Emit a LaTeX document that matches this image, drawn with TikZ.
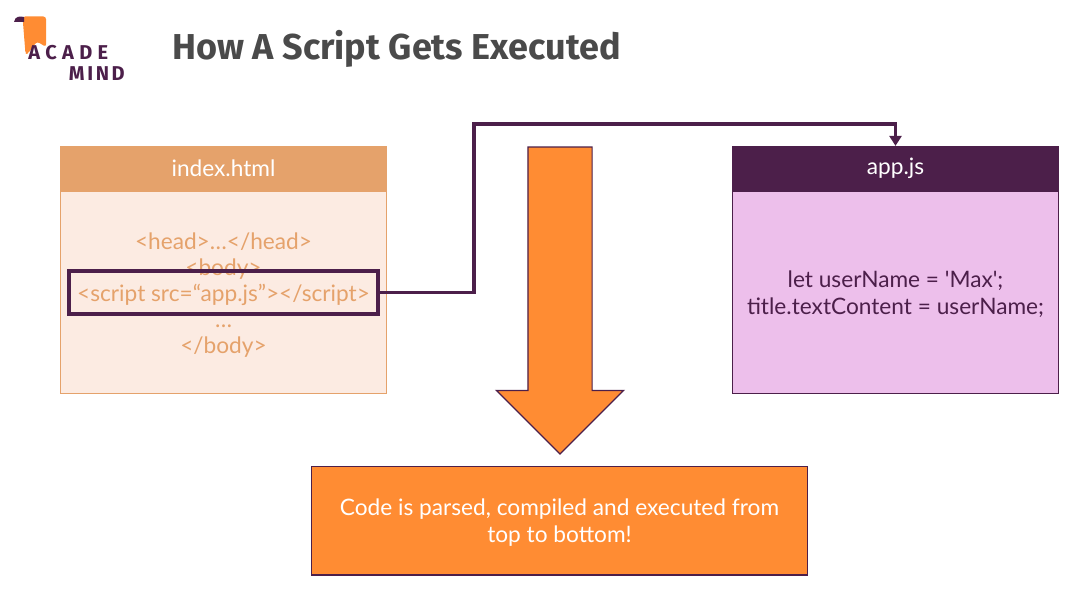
\documentclass[tikz,border=0pt]{standalone}
\usepackage{fontspec}
\setmainfont{Lato}
\newfontfamily\titlefont{Fira Sans}
\usetikzlibrary{arrows.meta, shapes.arrows}
\definecolor{amorange}{HTML}{FF8C33}
\definecolor{ampurple}{HTML}{4C1F4A}
\definecolor{amsand}{HTML}{E5A26B}
\definecolor{ampeach}{HTML}{FCEBE2}
\definecolor{amlilac}{HTML}{EDBFEB}
\definecolor{amgrey}{HTML}{4A4A4A}
\begin{document}
\begin{tikzpicture}[
    x=0.75pt, y=-0.75pt,
    box/.style={draw, minimum width=244.5pt, align=center, inner sep=0pt, line width=0.9pt, font=\fontsize{17}{20.25}\selectfont},
    headbox/.style={box, minimum height=32.7pt},
    htmlhead/.style={headbox, fill=amsand, draw=amsand, text=white},
    htmlbody/.style={box, fill=ampeach, draw=amsand, minimum height=151.5pt},
    apphead/.style={headbox, fill=ampurple, draw=ampurple, text=white},
    appbody/.style={box, fill=amlilac, draw=ampurple, minimum height=151.5pt},
    bodytext/.style={align=center, inner sep=0pt, font=\fontsize{17}{20.25}\selectfont},
    scriptbox/.style={draw=ampurple, line width=3pt, minimum width=231.75pt, minimum height=32.25pt, inner sep=0pt},
    flowarrow/.style={single arrow, draw=ampurple, fill=amorange, line width=0.9pt, inner sep=0pt, text width=47.25pt, minimum height=230.25pt, minimum width=94.5pt, single arrow head extend=23.625pt, single arrow head indent=0pt, shape border rotate=270},
    resultbox/.style={box, fill=amorange, draw=ampurple, minimum width=372pt, minimum height=81.4pt},
    link/.style={-{Triangle[length=7.5pt, width=9pt]}, line width=2.5pt, ampurple},
    logotext/.style={font=\titlefont\bfseries\fontsize{15}{16}\selectfont, text=ampurple, inner sep=0pt}
]
    \useasboundingbox (0,0) rectangle (1091,595);

    % Logo and heading.
    \fill[amorange, rounded corners=2pt] (22.5,16.5) -- (46,16.5) -- (46,47) -- (37,41.5) -- (27.5,54) -- (25.5,54) -- cycle;
    \fill[ampurple] (14,22) .. controls (15,16) and (20,16) .. (24,17) -- (24,22) -- cycle;
    \node[logotext, anchor=west] (logotop) at (28,53) {A\kern4pt C\kern4pt A\kern4pt D\kern4pt E};
    \node[logotext, anchor=east] (logobottom) at (125,73.5) {M\kern2pt I\kern2pt N\kern2pt D};
    \node[font=\titlefont\bfseries\fontsize{27}{30}\selectfont, text=amgrey, anchor=west, inner sep=0pt] (title) at (172,49) {How A Script Gets Executed};

    % Left file.
    \node[htmlbody] (htmlpanel) at (223.5,292.8) {};
    \node[htmlhead] (htmlheader) at (223.5,168.3) {index.html};
    \node[bodytext, font=\fontsize{17}{19.5}\selectfont, text=amsand] (htmlcode) at ([yshift=-1.9pt]htmlpanel.center) {%
        <head>\ldots</head>\\<body>\\<script src=``app.js''></script>\\\ldots\\</body>};
    \node[scriptbox] (script) at (223.5,292.5) {};

    % Right file.
    \node[appbody] (apppanel) at (895.5,292.8) {};
    \node[apphead] (appheader) at (895.5,168.3) {app.js};
    \node[bodytext, text=ampurple] (appcode) at ([yshift=-1.4pt]apppanel.center) {let userName = \textquotesingle Max\textquotesingle;\\title.textContent = userName;};

    % Execution direction.
    \node[flowarrow] (flow) at (560,284.5) {};
    \node[resultbox] (result) at (559.5,520.7) {};
    \node[bodytext, text=white] (resulttext) at ([yshift=-1.5pt]result.center) {Code is parsed, compiled and executed from\\top to bottom!};

    \coordinate (railcorner) at (474,124);
    \draw[link] (script.east) -| (railcorner) -| (appheader.north);
\end{tikzpicture}
\end{document}
